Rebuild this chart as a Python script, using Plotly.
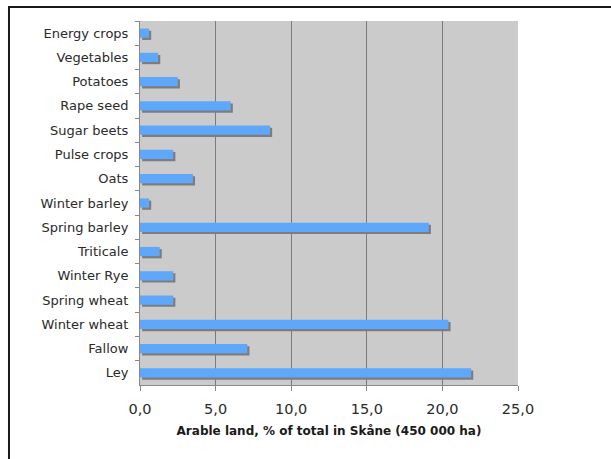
import plotly.graph_objects as go

# Crop areas in Skåne, share of arable land (%)
crops = [
    "Energy crops", "Vegetables", "Potatoes", "Rape seed", "Sugar beets",
    "Pulse crops", "Oats", "Winter barley", "Spring barley", "Triticale",
    "Winter Rye", "Spring wheat", "Winter wheat", "Fallow", "Ley",
]
share_pct = [0.6, 1.2, 2.5, 6.0, 8.6, 2.2, 3.5, 0.6, 19.1, 1.3, 2.2, 2.2, 20.4, 7.1, 21.9]

x_ticks = [0, 5, 10, 15, 20, 25]

BAR_W = 0.38
SHADOW_DX = 0.14
SHADOW_DY = 0.09

fig = go.Figure()

# drop shadow behind each bar
fig.add_trace(go.Bar(
    y=crops, x=share_pct, base=SHADOW_DX, orientation="h",
    width=BAR_W, offset=-BAR_W / 2 + SHADOW_DY,
    marker=dict(color="#7d7d7d", line=dict(width=0)),
    hoverinfo="skip", showlegend=False,
))
fig.add_trace(go.Bar(
    y=crops, x=share_pct, orientation="h",
    width=BAR_W, offset=-BAR_W / 2,
    marker=dict(color="#5ea7fa", line=dict(width=0)),
    showlegend=False,
))

fig.update_layout(
    width=611, height=459,
    margin=dict(l=140, r=93, t=21, b=74),
    paper_bgcolor="white",
    plot_bgcolor="#cbcbcb",
    barmode="overlay",
    separators=", ",
    font=dict(family="DejaVu Sans", color="#2a2a2a"),
    xaxis=dict(
        range=[0, 25], tickvals=x_ticks, tickformat=".1f",
        showgrid=True, gridcolor="#7a7a7a", gridwidth=1,
        showline=True, linecolor="#888888", linewidth=1,
        ticks="outside", ticklen=5, tickcolor="#888888",
        ticklabelstandoff=6,
        tickfont=dict(size=14.5, family="DejaVu Sans", color="#2a2a2a"),
        zeroline=False,
        title=dict(
            text="<b>Arable land, % of total in Skåne (450 000 ha)</b>",
            font=dict(size=12, family="DejaVu Sans", color="#1a1a1a"),
            standoff=10,
        ),
    ),
    yaxis=dict(
        categoryorder="array", categoryarray=crops, autorange="reversed",
        showgrid=False, showline=True, linecolor="#888888", linewidth=1,
        ticks="outside", ticklen=4, tickcolor="#888888", tickson="boundaries",
        ticklabelstandoff=8,
        tickfont=dict(size=13, family="DejaVu Sans", color="#2a2a2a"),
    ),
    shapes=[dict(
        type="rect", xref="paper", yref="paper",
        x0=-0.3466, x1=1.4, y0=-0.4, y1=1.0385,
        line=dict(color="#1a1a1a", width=2), fillcolor="rgba(0,0,0,0)",
        layer="above",
    )],
)

fig.write_html("out.html")
